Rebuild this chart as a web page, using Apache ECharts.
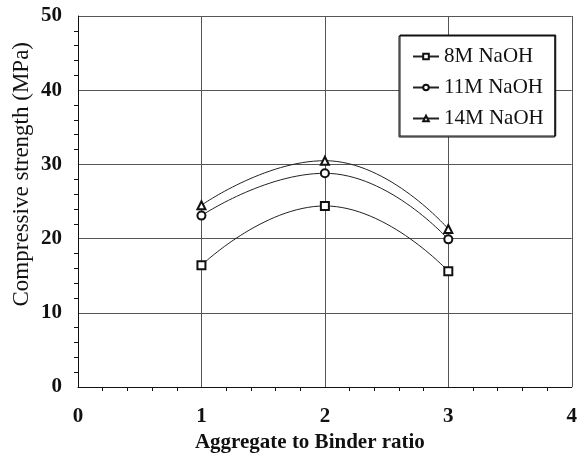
<!DOCTYPE html>
<html lang="en">
<head>
<meta charset="UTF-8">
<title>Compressive strength</title>
<script src="https://cdn.jsdelivr.net/npm/echarts@6/dist/echarts.min.js"></script>
</head>
<body style="margin:0;background:#fff;">
<div id="main" style="width: 580px; height: 459px;"></div>
<script type="text/javascript">
	// ratios and strengths
	var ratios = [1, 2, 3];
	var naoh8 = [16.4, 24.4, 15.6];
	var naoh11 = [23.1, 28.8, 19.9];
	var naoh14 = [24.5, 30.5, 21.3];
	var names = ['8M NaOH', '11M NaOH', '14M NaOH'];
	var yTicks = [0, 10, 20, 30, 40, 50];
	var xTicks = [0, 1, 2, 3, 4];

	var serif = '"Liberation Serif", "DejaVu Serif", serif';

	function pairs(vals) {
		var out = [];
		for (var i = 0; i < ratios.length; i++) {
			out.push([ratios[i], vals[i]]);
		}
		return out;
	}

	function lineSeries(name, vals, symbol) {
		return {
			name: name,
			type: 'line',
			data: pairs(vals),
			smooth: 0.5,
			symbol: symbol,
			symbolSize: 8,
			showAllSymbol: true,
			lineStyle: { color: '#222', width: 1 },
			itemStyle: { color: '#111', borderWidth: 1 }
		};
	}

	var myChart = echarts.init(document.getElementById('main'));

	var option = {
		animation: false,
		backgroundColor: '#fff',
		grid: { left: 78, right: 4, top: 16, bottom: 72 },
		legend: {
			orient: 'vertical',
			left: 399,
			top: 36,
			padding: [10, 11, 8, 13],
			itemGap: 10,
			itemWidth: 26,
			itemHeight: 7,
			data: names,
			backgroundColor: '#fff',
			borderColor: '#111',
			borderWidth: 1,
			shadowColor: '#111',
			shadowBlur: 0,
			shadowOffsetX: 1,
			shadowOffsetY: -1,
			textStyle: { fontFamily: serif, fontSize: 21, color: '#111' }
		},
		xAxis: {
			type: 'value',
			min: xTicks[0],
			max: xTicks[xTicks.length - 1],
			interval: 1,
			name: 'Aggregate to Binder ratio',
			nameLocation: 'middle',
			nameGap: 42,
			nameTextStyle: { fontFamily: serif, fontSize: 21, fontWeight: 'bold', color: '#111', padding: [0, 30, 0, 0] },
			axisLine: { lineStyle: { color: '#111', width: 1 } },
			axisTick: { show: false },
			minorTick: { show: true, splitNumber: 5, length: 4, lineStyle: { color: '#111' } },
			axisLabel: { fontFamily: serif, fontSize: 21, fontWeight: 'bold', color: '#111', margin: 19 },
			splitLine: { show: true, lineStyle: { color: '#555', width: 1 } }
		},
		yAxis: {
			type: 'value',
			min: yTicks[0],
			max: yTicks[yTicks.length - 1],
			interval: 10,
			axisLine: { show: true, lineStyle: { color: '#111', width: 1 } },
			axisTick: { show: false },
			minorTick: { show: true, splitNumber: 5, length: 4, lineStyle: { color: '#111' } },
			axisLabel: { fontFamily: serif, fontSize: 21, fontWeight: 'bold', color: '#111', margin: 16 },
			splitLine: { show: true, lineStyle: { color: '#555', width: 1 } }
		},
		graphic: [{
			type: 'text',
			left: 10,
			top: 42,
			rotation: Math.PI / 2,
			style: {
				text: 'Compressive strength (MPa)',
				font: '23px ' + serif,
				fill: '#111'
			}
		}],
		series: [
			lineSeries(names[0], naoh8, 'emptyRect'),
			lineSeries(names[1], naoh11, 'emptyCircle'),
			lineSeries(names[2], naoh14, 'emptyTriangle')
		]
	};

	myChart.setOption(option);
</script>
</body>
</html>
